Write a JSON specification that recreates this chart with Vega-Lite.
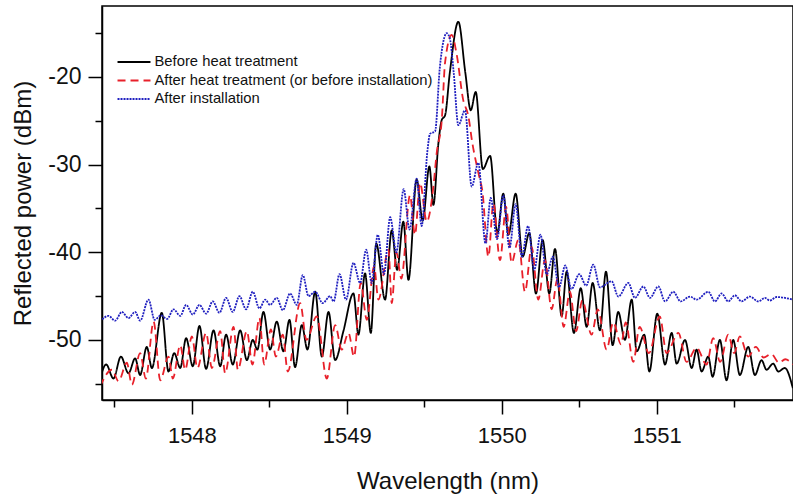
{
  "$schema": "https://vega.github.io/schema/vega-lite/v6.json",
  "width": 691,
  "height": 394,
  "autosize": {"type": "none"},
  "padding": {"left": 102, "top": 6, "right": 0, "bottom": 100},
  "background": "white",
  "config": {
    "font": "Liberation Sans",
    "view": {"stroke": "black", "strokeWidth": 1.5},
    "axis": {
      "grid": false,
      "domainColor": "black",
      "domainWidth": 1.5,
      "tickColor": "black",
      "tickWidth": 1.5,
      "labelColor": "#111111",
      "titleColor": "#111111",
      "titleFontWeight": "normal",
      "labelFont": "Liberation Sans",
      "titleFont": "Liberation Sans"
    },
    "legend": {
      "orient": "none",
      "legendX": 23,
      "legendY": 47,
      "padding": 0,
      "symbolType": "M-2.06,0H2.06",
      "symbolSize": 256,
      "symbolStrokeWidth": 1.8,
      "labelFontSize": 14.8,
      "labelOffset": 11.5,
      "rowPadding": 2.5,
      "labelColor": "#111111",
      "labelLimit": 400
    }
  },
  "data": {
    "values": [
      {"s":"Before heat treatment","w":1547.408,"p":-54.4},{"s":"Before heat treatment","w":1547.447,"p":-52.8},{"s":"Before heat treatment","w":1547.494,"p":-54.4},{"s":"Before heat treatment","w":1547.542,"p":-51.9},{"s":"Before heat treatment","w":1547.591,"p":-53.8},{"s":"Before heat treatment","w":1547.634,"p":-52.1},{"s":"Before heat treatment","w":1547.666,"p":-54.0},{"s":"Before heat treatment","w":1547.709,"p":-50.8},{"s":"Before heat treatment","w":1547.742,"p":-53.2},{"s":"Before heat treatment","w":1547.806,"p":-46.9},{"s":"Before heat treatment","w":1547.849,"p":-53.6},{"s":"Before heat treatment","w":1547.886,"p":-51.5},{"s":"Before heat treatment","w":1547.925,"p":-53.2},{"s":"Before heat treatment","w":1547.963,"p":-49.8},{"s":"Before heat treatment","w":1548.006,"p":-53.0},{"s":"Before heat treatment","w":1548.049,"p":-48.4},{"s":"Before heat treatment","w":1548.092,"p":-53.3},{"s":"Before heat treatment","w":1548.140,"p":-48.9},{"s":"Before heat treatment","w":1548.183,"p":-53.0},{"s":"Before heat treatment","w":1548.221,"p":-49.4},{"s":"Before heat treatment","w":1548.264,"p":-52.8},{"s":"Before heat treatment","w":1548.312,"p":-48.9},{"s":"Before heat treatment","w":1548.355,"p":-52.3},{"s":"Before heat treatment","w":1548.393,"p":-50.0},{"s":"Before heat treatment","w":1548.423,"p":-51.1},{"s":"Before heat treatment","w":1548.462,"p":-46.8},{"s":"Before heat treatment","w":1548.505,"p":-51.1},{"s":"Before heat treatment","w":1548.548,"p":-47.9},{"s":"Before heat treatment","w":1548.591,"p":-51.3},{"s":"Before heat treatment","w":1548.630,"p":-47.7},{"s":"Before heat treatment","w":1548.666,"p":-53.1},{"s":"Before heat treatment","w":1548.710,"p":-48.3},{"s":"Before heat treatment","w":1548.746,"p":-51.1},{"s":"Before heat treatment","w":1548.796,"p":-44.5},{"s":"Before heat treatment","w":1548.839,"p":-51.9},{"s":"Before heat treatment","w":1548.882,"p":-46.8},{"s":"Before heat treatment","w":1548.925,"p":-52.3},{"s":"Before heat treatment","w":1548.978,"p":-49.0},{"s":"Before heat treatment","w":1549.043,"p":-44.7},{"s":"Before heat treatment","w":1549.075,"p":-49.4},{"s":"Before heat treatment","w":1549.118,"p":-42.4},{"s":"Before heat treatment","w":1549.155,"p":-49.2},{"s":"Before heat treatment","w":1549.19,"p":-39.0},{"s":"Before heat treatment","w":1549.247,"p":-45.4},{"s":"Before heat treatment","w":1549.29,"p":-37.5},{"s":"Before heat treatment","w":1549.325,"p":-42.0},{"s":"Before heat treatment","w":1549.365,"p":-36.5},{"s":"Before heat treatment","w":1549.398,"p":-43.15},{"s":"Before heat treatment","w":1549.451,"p":-31.7},{"s":"Before heat treatment","w":1549.49,"p":-36.4},{"s":"Before heat treatment","w":1549.533,"p":-30.2},{"s":"Before heat treatment","w":1549.559,"p":-34.6},{"s":"Before heat treatment","w":1549.591,"p":-27.6},{"s":"Before heat treatment","w":1549.613,"p":-24.9},{"s":"Before heat treatment","w":1549.634,"p":-24.4},{"s":"Before heat treatment","w":1549.665,"p":-19.5},{"s":"Before heat treatment","w":1549.72,"p":-13.7},{"s":"Before heat treatment","w":1549.765,"p":-19.5},{"s":"Before heat treatment","w":1549.800,"p":-23.8},{"s":"Before heat treatment","w":1549.832,"p":-21.7},{"s":"Before heat treatment","w":1549.878,"p":-30.5},{"s":"Before heat treatment","w":1549.925,"p":-29.0},{"s":"Before heat treatment","w":1549.972,"p":-37.8},{"s":"Before heat treatment","w":1550.010,"p":-33.3},{"s":"Before heat treatment","w":1550.043,"p":-38.0},{"s":"Before heat treatment","w":1550.090,"p":-33.3},{"s":"Before heat treatment","w":1550.135,"p":-40.5},{"s":"Before heat treatment","w":1550.178,"p":-37.8},{"s":"Before heat treatment","w":1550.221,"p":-44.7},{"s":"Before heat treatment","w":1550.264,"p":-38.6},{"s":"Before heat treatment","w":1550.307,"p":-44.7},{"s":"Before heat treatment","w":1550.344,"p":-39.6},{"s":"Before heat treatment","w":1550.387,"p":-47.3},{"s":"Before heat treatment","w":1550.419,"p":-42.2},{"s":"Before heat treatment","w":1550.466,"p":-49.2},{"s":"Before heat treatment","w":1550.510,"p":-44.1},{"s":"Before heat treatment","w":1550.548,"p":-48.5},{"s":"Before heat treatment","w":1550.587,"p":-43.5},{"s":"Before heat treatment","w":1550.634,"p":-48.9},{"s":"Before heat treatment","w":1550.673,"p":-42.2},{"s":"Before heat treatment","w":1550.716,"p":-50.6},{"s":"Before heat treatment","w":1550.752,"p":-46.8},{"s":"Before heat treatment","w":1550.795,"p":-50.0},{"s":"Before heat treatment","w":1550.839,"p":-45.4},{"s":"Before heat treatment","w":1550.871,"p":-51.3},{"s":"Before heat treatment","w":1550.920,"p":-49.4},{"s":"Before heat treatment","w":1550.953,"p":-53.6},{"s":"Before heat treatment","w":1551.004,"p":-47.0},{"s":"Before heat treatment","w":1551.054,"p":-52.8},{"s":"Before heat treatment","w":1551.097,"p":-49.2},{"s":"Before heat treatment","w":1551.129,"p":-52.7},{"s":"Before heat treatment","w":1551.183,"p":-50.0},{"s":"Before heat treatment","w":1551.226,"p":-53.2},{"s":"Before heat treatment","w":1551.258,"p":-51.1},{"s":"Before heat treatment","w":1551.290,"p":-53.6},{"s":"Before heat treatment","w":1551.333,"p":-51.9},{"s":"Before heat treatment","w":1551.361,"p":-54.2},{"s":"Before heat treatment","w":1551.408,"p":-50.0},{"s":"Before heat treatment","w":1551.451,"p":-54.6},{"s":"Before heat treatment","w":1551.494,"p":-50.0},{"s":"Before heat treatment","w":1551.537,"p":-54.0},{"s":"Before heat treatment","w":1551.591,"p":-50.8},{"s":"Before heat treatment","w":1551.634,"p":-54.0},{"s":"Before heat treatment","w":1551.677,"p":-52.3},{"s":"Before heat treatment","w":1551.709,"p":-53.4},{"s":"Before heat treatment","w":1551.752,"p":-52.7},{"s":"Before heat treatment","w":1551.785,"p":-53.6},{"s":"Before heat treatment","w":1551.827,"p":-53.2},{"s":"Before heat treatment","w":1551.879,"p":-55.5},

      {"s":"After heat treatment (or before installation)","w":1547.408,"p":-55.3},{"s":"After heat treatment (or before installation)","w":1547.484,"p":-53.4},{"s":"After heat treatment (or before installation)","w":1547.527,"p":-54.7},{"s":"After heat treatment (or before installation)","w":1547.580,"p":-52.6},{"s":"After heat treatment (or before installation)","w":1547.613,"p":-55.1},{"s":"After heat treatment (or before installation)","w":1547.666,"p":-51.5},{"s":"After heat treatment (or before installation)","w":1547.703,"p":-54.4},{"s":"After heat treatment (or before installation)","w":1547.753,"p":-47.9},{"s":"After heat treatment (or before installation)","w":1547.796,"p":-54.6},{"s":"After heat treatment (or before installation)","w":1547.849,"p":-51.9},{"s":"After heat treatment (or before installation)","w":1547.877,"p":-54.4},{"s":"After heat treatment (or before installation)","w":1547.925,"p":-50.6},{"s":"After heat treatment (or before installation)","w":1547.957,"p":-53.4},{"s":"After heat treatment (or before installation)","w":1548.0,"p":-49.6},{"s":"After heat treatment (or before installation)","w":1548.036,"p":-53.2},{"s":"After heat treatment (or before installation)","w":1548.092,"p":-49.2},{"s":"After heat treatment (or before installation)","w":1548.129,"p":-53.2},{"s":"After heat treatment (or before installation)","w":1548.183,"p":-49.0},{"s":"After heat treatment (or before installation)","w":1548.215,"p":-53.8},{"s":"After heat treatment (or before installation)","w":1548.269,"p":-48.5},{"s":"After heat treatment (or before installation)","w":1548.297,"p":-53.4},{"s":"After heat treatment (or before installation)","w":1548.355,"p":-49.0},{"s":"After heat treatment (or before installation)","w":1548.391,"p":-52.8},{"s":"After heat treatment (or before installation)","w":1548.436,"p":-47.5},{"s":"After heat treatment (or before installation)","w":1548.467,"p":-52.8},{"s":"After heat treatment (or before installation)","w":1548.510,"p":-48.8},{"s":"After heat treatment (or before installation)","w":1548.542,"p":-51.9},{"s":"After heat treatment (or before installation)","w":1548.587,"p":-49.4},{"s":"After heat treatment (or before installation)","w":1548.619,"p":-53.6},{"s":"After heat treatment (or before installation)","w":1548.699,"p":-45.8},{"s":"After heat treatment (or before installation)","w":1548.74,"p":-50.0},{"s":"After heat treatment (or before installation)","w":1548.806,"p":-47.3},{"s":"After heat treatment (or before installation)","w":1548.871,"p":-54.4},{"s":"After heat treatment (or before installation)","w":1548.925,"p":-48.3},{"s":"After heat treatment (or before installation)","w":1548.967,"p":-51.1},{"s":"After heat treatment (or before installation)","w":1549.011,"p":-49.2},{"s":"After heat treatment (or before installation)","w":1549.047,"p":-51.9},{"s":"After heat treatment (or before installation)","w":1549.090,"p":-43.5},{"s":"After heat treatment (or before installation)","w":1549.129,"p":-47.7},{"s":"After heat treatment (or before installation)","w":1549.176,"p":-41.6},{"s":"After heat treatment (or before installation)","w":1549.204,"p":-45.4},{"s":"After heat treatment (or before installation)","w":1549.269,"p":-39.7},{"s":"After heat treatment (or before installation)","w":1549.290,"p":-45.8},{"s":"After heat treatment (or before installation)","w":1549.32,"p":-40.0},{"s":"After heat treatment (or before installation)","w":1549.352,"p":-43.0},{"s":"After heat treatment (or before installation)","w":1549.408,"p":-33.5},{"s":"After heat treatment (or before installation)","w":1549.44,"p":-38.0},{"s":"After heat treatment (or before installation)","w":1549.473,"p":-32.1},{"s":"After heat treatment (or before installation)","w":1549.516,"p":-36.5},{"s":"After heat treatment (or before installation)","w":1549.559,"p":-32.5},{"s":"After heat treatment (or before installation)","w":1549.58,"p":-28.7},{"s":"After heat treatment (or before installation)","w":1549.613,"p":-24.9},{"s":"After heat treatment (or before installation)","w":1549.634,"p":-18.4},{"s":"After heat treatment (or before installation)","w":1549.677,"p":-15.2},{"s":"After heat treatment (or before installation)","w":1549.71,"p":-17.5},{"s":"After heat treatment (or before installation)","w":1549.75,"p":-22.5},{"s":"After heat treatment (or before installation)","w":1549.785,"p":-24.5},{"s":"After heat treatment (or before installation)","w":1549.81,"p":-27.5},{"s":"After heat treatment (or before installation)","w":1549.85,"p":-31.0},{"s":"After heat treatment (or before installation)","w":1549.875,"p":-33.0},{"s":"After heat treatment (or before installation)","w":1549.914,"p":-40.5},{"s":"After heat treatment (or before installation)","w":1549.946,"p":-34.4},{"s":"After heat treatment (or before installation)","w":1549.989,"p":-40.9},{"s":"After heat treatment (or before installation)","w":1550.028,"p":-34.8},{"s":"After heat treatment (or before installation)","w":1550.064,"p":-41.2},{"s":"After heat treatment (or before installation)","w":1550.107,"p":-38.6},{"s":"After heat treatment (or before installation)","w":1550.15,"p":-44.5},{"s":"After heat treatment (or before installation)","w":1550.193,"p":-39.4},{"s":"After heat treatment (or before installation)","w":1550.236,"p":-45.4},{"s":"After heat treatment (or before installation)","w":1550.279,"p":-40.9},{"s":"After heat treatment (or before installation)","w":1550.322,"p":-46.5},{"s":"After heat treatment (or before installation)","w":1550.36,"p":-43.0},{"s":"After heat treatment (or before installation)","w":1550.40,"p":-48.5},{"s":"After heat treatment (or before installation)","w":1550.44,"p":-44.5},{"s":"After heat treatment (or before installation)","w":1550.48,"p":-49.0},{"s":"After heat treatment (or before installation)","w":1550.52,"p":-45.5},{"s":"After heat treatment (or before installation)","w":1550.58,"p":-49.4},{"s":"After heat treatment (or before installation)","w":1550.62,"p":-46.5},{"s":"After heat treatment (or before installation)","w":1550.677,"p":-51.1},{"s":"After heat treatment (or before installation)","w":1550.72,"p":-48.0},{"s":"After heat treatment (or before installation)","w":1550.77,"p":-50.5},{"s":"After heat treatment (or before installation)","w":1550.80,"p":-48.0},{"s":"After heat treatment (or before installation)","w":1550.849,"p":-52.5},{"s":"After heat treatment (or before installation)","w":1550.89,"p":-48.5},{"s":"After heat treatment (or before installation)","w":1550.95,"p":-51.5},{"s":"After heat treatment (or before installation)","w":1551.02,"p":-47.3},{"s":"After heat treatment (or before installation)","w":1551.064,"p":-51.5},{"s":"After heat treatment (or before installation)","w":1551.14,"p":-49.2},{"s":"After heat treatment (or before installation)","w":1551.193,"p":-52.5},{"s":"After heat treatment (or before installation)","w":1551.258,"p":-50.9},{"s":"After heat treatment (or before installation)","w":1551.322,"p":-52.8},{"s":"After heat treatment (or before installation)","w":1551.365,"p":-49.8},{"s":"After heat treatment (or before installation)","w":1551.41,"p":-52.5},{"s":"After heat treatment (or before installation)","w":1551.462,"p":-49.4},{"s":"After heat treatment (or before installation)","w":1551.50,"p":-51.5},{"s":"After heat treatment (or before installation)","w":1551.537,"p":-49.6},{"s":"After heat treatment (or before installation)","w":1551.591,"p":-51.9},{"s":"After heat treatment (or before installation)","w":1551.64,"p":-50.8},{"s":"After heat treatment (or before installation)","w":1551.69,"p":-52.0},{"s":"After heat treatment (or before installation)","w":1551.74,"p":-51.6},{"s":"After heat treatment (or before installation)","w":1551.79,"p":-52.6},{"s":"After heat treatment (or before installation)","w":1551.83,"p":-52.2},{"s":"After heat treatment (or before installation)","w":1551.879,"p":-52.8},

      {"s":"After installation","w":1547.408,"p":-47.9},{"s":"After installation","w":1547.462,"p":-47.25},{"s":"After installation","w":1547.505,"p":-47.8},{"s":"After installation","w":1547.548,"p":-46.8},{"s":"After installation","w":1547.591,"p":-47.5},{"s":"After installation","w":1547.634,"p":-46.8},{"s":"After installation","w":1547.666,"p":-47.8},{"s":"After installation","w":1547.720,"p":-45.4},{"s":"After installation","w":1547.76,"p":-47.7},{"s":"After installation","w":1547.80,"p":-47.2},{"s":"After installation","w":1547.84,"p":-47.6},{"s":"After installation","w":1547.882,"p":-46.5},{"s":"After installation","w":1547.925,"p":-47.25},{"s":"After installation","w":1547.963,"p":-46.0},{"s":"After installation","w":1548.006,"p":-47.1},{"s":"After installation","w":1548.049,"p":-46.0},{"s":"After installation","w":1548.092,"p":-47.0},{"s":"After installation","w":1548.135,"p":-45.6},{"s":"After installation","w":1548.178,"p":-46.9},{"s":"After installation","w":1548.221,"p":-45.2},{"s":"After installation","w":1548.264,"p":-46.8},{"s":"After installation","w":1548.307,"p":-45.0},{"s":"After installation","w":1548.350,"p":-46.5},{"s":"After installation","w":1548.393,"p":-44.5},{"s":"After installation","w":1548.436,"p":-46.4},{"s":"After installation","w":1548.473,"p":-45.4},{"s":"After installation","w":1548.505,"p":-46.0},{"s":"After installation","w":1548.548,"p":-45.2},{"s":"After installation","w":1548.587,"p":-46.6},{"s":"After installation","w":1548.634,"p":-44.7},{"s":"After installation","w":1548.677,"p":-46.0},{"s":"After installation","w":1548.716,"p":-42.6},{"s":"After installation","w":1548.753,"p":-45.0},{"s":"After installation","w":1548.796,"p":-44.5},{"s":"After installation","w":1548.845,"p":-45.8},{"s":"After installation","w":1548.892,"p":-45.0},{"s":"After installation","w":1548.915,"p":-45.6},{"s":"After installation","w":1548.953,"p":-42.5},{"s":"After installation","w":1548.995,"p":-45.4},{"s":"After installation","w":1549.043,"p":-41.2},{"s":"After installation","w":1549.086,"p":-43.5},{"s":"After installation","w":1549.125,"p":-39.7},{"s":"After installation","w":1549.161,"p":-43.5},{"s":"After installation","w":1549.20,"p":-38.0},{"s":"After installation","w":1549.24,"p":-42.5},{"s":"After installation","w":1549.28,"p":-36.0},{"s":"After installation","w":1549.32,"p":-40.0},{"s":"After installation","w":1549.367,"p":-32.8},{"s":"After installation","w":1549.405,"p":-37.4},{"s":"After installation","w":1549.451,"p":-31.6},{"s":"After installation","w":1549.483,"p":-37.0},{"s":"After installation","w":1549.52,"p":-28.5},{"s":"After installation","w":1549.537,"p":-26.5},{"s":"After installation","w":1549.57,"p":-26.2},{"s":"After installation","w":1549.60,"p":-19.0},{"s":"After installation","w":1549.625,"p":-15.8},{"s":"After installation","w":1549.645,"p":-15.0},{"s":"After installation","w":1549.665,"p":-15.6},{"s":"After installation","w":1549.69,"p":-19.5},{"s":"After installation","w":1549.720,"p":-25.5},{"s":"After installation","w":1549.763,"p":-23.8},{"s":"After installation","w":1549.806,"p":-32.5},{"s":"After installation","w":1549.849,"p":-29.8},{"s":"After installation","w":1549.895,"p":-39.0},{"s":"After installation","w":1549.929,"p":-33.8},{"s":"After installation","w":1549.97,"p":-38.5},{"s":"After installation","w":1550.01,"p":-33.5},{"s":"After installation","w":1550.05,"p":-39.5},{"s":"After installation","w":1550.09,"p":-34.5},{"s":"After installation","w":1550.13,"p":-40.5},{"s":"After installation","w":1550.17,"p":-37.0},{"s":"After installation","w":1550.21,"p":-42.0},{"s":"After installation","w":1550.25,"p":-38.0},{"s":"After installation","w":1550.29,"p":-42.5},{"s":"After installation","w":1550.33,"p":-40.5},{"s":"After installation","w":1550.37,"p":-44.0},{"s":"After installation","w":1550.41,"p":-41.5},{"s":"After installation","w":1550.45,"p":-44.2},{"s":"After installation","w":1550.50,"p":-42.5},{"s":"After installation","w":1550.545,"p":-43.8},{"s":"After installation","w":1550.591,"p":-41.4},{"s":"After installation","w":1550.634,"p":-44.0},{"s":"After installation","w":1550.709,"p":-43.3},{"s":"After installation","w":1550.753,"p":-45.05},{"s":"After installation","w":1550.817,"p":-43.5},{"s":"After installation","w":1550.860,"p":-45.2},{"s":"After installation","w":1550.914,"p":-43.9},{"s":"After installation","w":1550.957,"p":-45.2},{"s":"After installation","w":1551.011,"p":-43.9},{"s":"After installation","w":1551.054,"p":-45.6},{"s":"After installation","w":1551.107,"p":-44.5},{"s":"After installation","w":1551.155,"p":-45.6},{"s":"After installation","w":1551.215,"p":-45.05},{"s":"After installation","w":1551.258,"p":-45.4},{"s":"After installation","w":1551.333,"p":-44.5},{"s":"After installation","w":1551.376,"p":-45.6},{"s":"After installation","w":1551.419,"p":-44.7},{"s":"After installation","w":1551.462,"p":-45.6},{"s":"After installation","w":1551.505,"p":-44.9},{"s":"After installation","w":1551.548,"p":-45.6},{"s":"After installation","w":1551.602,"p":-45.05},{"s":"After installation","w":1551.656,"p":-45.6},{"s":"After installation","w":1551.699,"p":-45.2},{"s":"After installation","w":1551.731,"p":-45.5},{"s":"After installation","w":1551.774,"p":-45.1},{"s":"After installation","w":1551.879,"p":-45.4}
    ]
  },
  "mark": {"type": "line", "interpolate": "monotone", "clip": true, "strokeWidth": 1.8},
  "encoding": {
    "x": {
      "field": "w",
      "type": "quantitative",
      "scale": {"domain": [1547.42, 1551.88], "nice": false, "zero": false},
      "axis": {
        "title": "Wavelength (nm)",
        "values": [1547.5, 1548, 1548.5, 1549, 1549.5, 1550, 1550.5, 1551, 1551.5],
        "labelExpr": "datum.value % 1 === 0 ? '' + datum.value : ''",
        "tickSize": {"condition": {"test": "datum.value % 1 === 0", "value": 14}, "value": 7},
        "labelFontSize": 22,
        "labelPadding": 11,
        "titleFontSize": 24,
        "titlePadding": 23
      }
    },
    "y": {
      "field": "p",
      "type": "quantitative",
      "scale": {"domain": [-56.85, -11.9], "nice": false, "zero": false},
      "axis": {
        "title": "Reflected power (dBm)",
        "values": [-55, -50, -45, -40, -35, -30, -25, -20, -15],
        "labelExpr": "datum.value % 10 === 0 ? '' + datum.value : ''",
        "tickSize": {"condition": {"test": "datum.value % 10 === 0", "value": 14}, "value": 7},
        "labelFontSize": 23,
        "labelPadding": 7,
        "titleFontSize": 24,
        "titlePadding": 12
      }
    },
    "color": {
      "field": "s",
      "type": "nominal",
      "title": null,
      "scale": {
        "domain": ["Before heat treatment", "After heat treatment (or before installation)", "After installation"],
        "range": ["#000000", "#e8202a", "#2020c0"]
      }
    },
    "strokeDash": {
      "field": "s",
      "type": "nominal",
      "title": null,
      "scale": {
        "domain": ["Before heat treatment", "After heat treatment (or before installation)", "After installation"],
        "range": [[1, 0], [8, 5], [2, 1]]
      }
    }
  }
}
